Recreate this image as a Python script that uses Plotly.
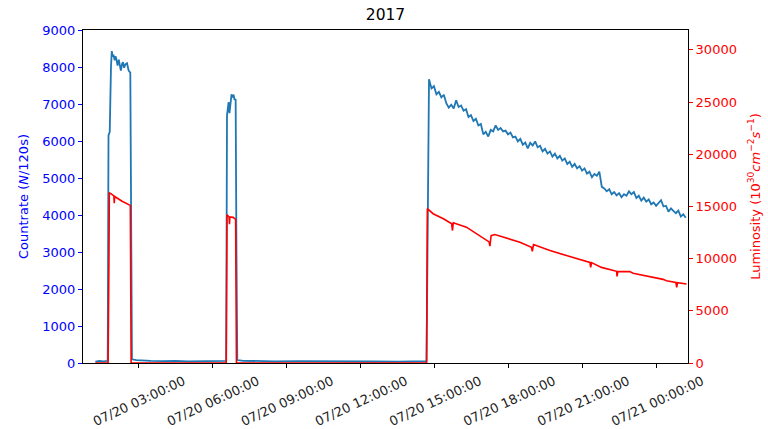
import pandas as pd
import plotly.graph_objects as go

DAY = "2017-07-20 "

# Countrate: first two fills + baseline (explicit times)
blue_times_a = ["01:15", "01:25", "01:35", "01:45", "01:47", "01:50", "01:53", "01:55",
                "01:57", "01:59", "02:02", "02:04", "02:06", "02:09", "02:12", "02:14",
                "02:17", "02:20", "02:22", "02:25", "02:28", "02:32", "02:36", "02:40",
                "02:42", "02:44", "02:55", "03:10", "03:30", "04:00", "04:30", "05:00",
                "05:30", "06:00", "06:30", "06:33", "06:35", "06:37", "06:39", "06:41",
                "06:44", "06:46", "06:49", "06:51", "06:53", "06:56", "06:58", "07:00",
                "07:15", "07:45", "08:30", "09:30", "10:30", "11:30", "12:30", "13:30",
                "14:20", "14:40"]
blue_vals_a = [40, 55, 45, 60, 6150, 6250, 8000, 8430,
               8280, 8330, 8180, 8290, 8220, 8040, 8200, 8080,
               7900, 8080, 8130, 7980, 8070, 8100, 7900, 7850,
               3000, 100, 80, 65, 55, 50, 60, 45,
               50, 40, 45, 60, 6700, 6900, 7050, 6750,
               7150, 7260, 7180, 7250, 7130, 7120, 3000, 80,
               60, 50, 45, 50, 40, 45, 40, 35,
               45, 50]

# Countrate: third fill, 6-minute cadence from 14:46
blue_start_b = "2017-07-20 14:46"
blue_vals_b = [7667, 7420, 7480, 7260, 7330, 7180, 7250, 7020, 6900, 6980,
               6880, 7100, 6920, 6960, 6820, 6860, 6650, 6700, 6540, 6600,
               6420, 6460, 6180, 6250, 6120, 6300, 6260, 6420, 6300, 6350,
               6260, 6280, 6180, 6230, 6100, 6120, 5990, 6060, 5900, 5960,
               5800, 5950, 5880, 5990, 5830, 5870, 5720, 5790, 5660, 5720,
               5580, 5660, 5530, 5600, 5470, 5530, 5380, 5440, 5300, 5380,
               5260, 5320, 5200, 5260, 5120, 5170, 5020, 5110, 5060, 5170,
               4760, 4720, 4640, 4700, 4560, 4620, 4530, 4590, 4480, 4560,
               4520, 4640, 4560, 4620, 4460, 4520, 4390, 4470, 4360, 4420,
               4290, 4340, 4250, 4330, 4400, 4230, 4250, 4090, 4180, 4110,
               4050, 4120, 3960, 4020, 3927]

# Luminosity
red_times = ["2017-07-20 01:15", "2017-07-20 01:46", "2017-07-20 01:48", "2017-07-20 01:49",
             "2017-07-20 01:52", "2017-07-20 02:00", "2017-07-20 02:01", "2017-07-20 02:02",
             "2017-07-20 02:20", "2017-07-20 02:40", "2017-07-20 02:42", "2017-07-20 06:33",
             "2017-07-20 06:35", "2017-07-20 06:40", "2017-07-20 06:41", "2017-07-20 06:42",
             "2017-07-20 06:50", "2017-07-20 06:56", "2017-07-20 06:58", "2017-07-20 14:40",
             "2017-07-20 14:42", "2017-07-20 14:56", "2017-07-20 15:21", "2017-07-20 15:41",
             "2017-07-20 15:43", "2017-07-20 15:45", "2017-07-20 16:17", "2017-07-20 16:50",
             "2017-07-20 17:12", "2017-07-20 17:14", "2017-07-20 17:17", "2017-07-20 17:26",
             "2017-07-20 17:55", "2017-07-20 18:27", "2017-07-20 18:55", "2017-07-20 18:57",
             "2017-07-20 19:00", "2017-07-20 19:40", "2017-07-20 20:20", "2017-07-20 21:17",
             "2017-07-20 21:19", "2017-07-20 21:21", "2017-07-20 21:45", "2017-07-20 22:22",
             "2017-07-20 22:23", "2017-07-20 22:25", "2017-07-20 22:54", "2017-07-20 23:02",
             "2017-07-21 00:15", "2017-07-21 00:23", "2017-07-21 00:46", "2017-07-21 00:48",
             "2017-07-21 00:50", "2017-07-21 01:12"]
red_vals = [0, 0, 9500, 16300,
            16250, 16000, 15300, 15950,
            15500, 15100, 0, 0,
            14200, 14000, 13300, 14000,
            13950, 13750, 0, 0,
            14780, 14300, 13820, 13340,
            12690, 13430, 13010, 12210,
            11600, 11200, 12200, 12310,
            11990, 11570, 11090, 10700,
            11350, 10770, 10290, 9640,
            9150, 9620, 9160, 8780,
            8300, 8760, 8750, 8590,
            8010, 7880, 7720, 7250,
            7700, 7570]

x_ticks = ["2017-07-20 03:00", "2017-07-20 06:00", "2017-07-20 09:00", "2017-07-20 12:00",
           "2017-07-20 15:00", "2017-07-20 18:00", "2017-07-20 21:00", "2017-07-21 00:00"]
x_ticktext = ["07/20 03:00:00", "07/20 06:00:00", "07/20 09:00:00", "07/20 12:00:00",
              "07/20 15:00:00", "07/20 18:00:00", "07/20 21:00:00", "07/21 00:00:00"]

blue_x = [DAY + t for t in blue_times_a] + list(
    pd.date_range(blue_start_b, periods=len(blue_vals_b), freq="6min"))
blue_y = blue_vals_a + blue_vals_b

FONT = "DejaVu Sans"
FS = 13

fig = go.Figure()
fig.add_trace(go.Scatter(x=blue_x, y=blue_y, mode="lines",
                         line=dict(color="#1f77b4", width=1.8), yaxis="y",
                         showlegend=False))
fig.add_trace(go.Scatter(x=pd.to_datetime(red_times), y=red_vals, mode="lines",
                         line=dict(color="#ff0000", width=1.6), yaxis="y2",
                         showlegend=False))

fig.update_layout(
    width=768, height=429,
    margin=dict(l=83, r=80, t=30, b=66),
    paper_bgcolor="white", plot_bgcolor="white",
    font=dict(family=FONT, size=FS, color="black"),
    title=dict(text="2017", x=0.5, xanchor="center", xref="paper",
               y=1 - 15 / 429, yanchor="middle", font=dict(size=15.5, color="black")),
    xaxis=dict(type="date", range=["2017-07-20 00:45", "2017-07-21 01:15:30"],
               tickmode="array", tickvals=x_ticks, ticktext=x_ticktext,
               tickangle=-25, ticks="outside", ticklen=4, tickcolor="black",
               ticklabelshift=45, ticklabelstandoff=1, automargin=False,
               showline=True, linecolor="black", linewidth=1.2, mirror=True,
               showgrid=False, zeroline=False,
               tickfont=dict(size=FS, color="#222")),
    yaxis=dict(range=[0, 9000], tickmode="linear", tick0=0, dtick=1000,
               ticks="outside", ticklen=4, tickcolor="blue", automargin=False,
               tickfont=dict(color="blue", size=FS),
               showline=True, linecolor="black", linewidth=1.2, mirror=True,
               showgrid=False, zeroline=False,
               title=dict(text="Countrate (<i>N</i>/120s)",
                          font=dict(color="blue", size=FS), standoff=10)),
    yaxis2=dict(range=[0, 31900], tickmode="linear", tick0=0, dtick=5000,
                tickformat="d", overlaying="y", side="right", automargin=False,
                ticks="outside", ticklen=4, tickcolor="red",
                tickfont=dict(color="red", size=FS),
                showline=False, showgrid=False, zeroline=False,
                title=dict(text="Luminosity (10<sup>30</sup><i>cm</i><sup>\u22122</sup><i>s</i><sup>\u22121</sup>)",
                           font=dict(color="red", size=FS), standoff=14)),
)

fig.write_html("out.html")
